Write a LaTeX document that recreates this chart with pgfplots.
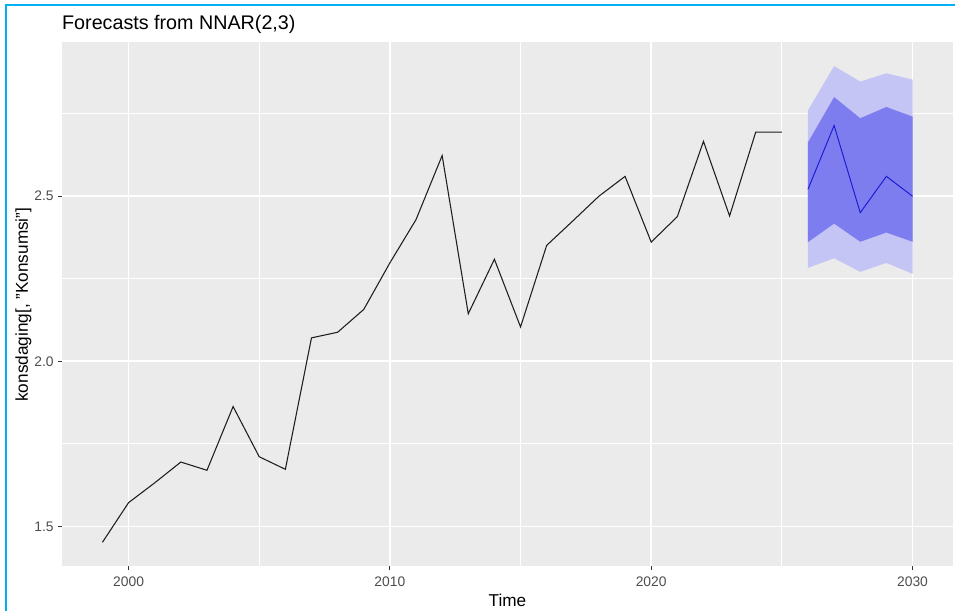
\documentclass[border=0pt]{standalone}
\usepackage{fontspec}
\setmainfont{Liberation Sans}
\usepackage{pgfplots}
\usepackage{pgfplotstable}
\pgfplotsset{compat=1.18}
\usepgfplotslibrary{fillbetween}

\definecolor{panelbg}{RGB}{235,235,235}
\definecolor{tickgray}{RGB}{51,51,51}
\definecolor{labgray}{RGB}{77,77,77}
\definecolor{band95}{RGB}{196,196,245}
\definecolor{band80}{RGB}{125,125,239}
\definecolor{fcline}{RGB}{25,25,210}
\definecolor{obsline}{RGB}{30,30,30}
\definecolor{frame}{RGB}{0,176,240}

% observed series
\pgfplotstableread{
year val
1999 1.452
2000 1.572
2001 1.632
2002 1.695
2003 1.670
2004 1.863
2005 1.711
2006 1.673
2007 2.071
2008 2.088
2009 2.157
2010 2.298
2011 2.429
2012 2.623
2013 2.144
2014 2.309
2015 2.104
2016 2.351
2017 2.425
2018 2.500
2019 2.560
2020 2.361
2021 2.438
2022 2.666
2023 2.440
2024 2.694
2025 2.694
}\obs

% NNAR forecast with 80/95 intervals
\pgfplotstableread{
year mean lo80 hi80 lo95 hi95
2026 2.521 2.361 2.663 2.283 2.760
2027 2.714 2.417 2.800 2.312 2.894
2028 2.450 2.362 2.736 2.271 2.847
2029 2.560 2.390 2.770 2.298 2.872
2030 2.500 2.362 2.741 2.265 2.853
}\fc

\begin{document}
\begin{tikzpicture}
  % page = 956 x 612 px, 1px = 0.75pt
  \path (0pt,0pt) rectangle (717pt,459pt);

  \begin{axis}[
    at={(46.5pt,33.75pt)}, anchor=south west,
    scale only axis,
    width=669pt, height=393.75pt,
    xmin=1997.45, xmax=2031.55,
    ymin=1.379, ymax=2.967,
    axis background/.style={fill=panelbg},
    axis line style={draw=none},
    xtick={2000,2010,2020,2030},
    ytick={1.5,2.0,2.5},
    minor xtick={2005,2015,2025},
    minor ytick={1.75,2.25,2.75},
    yticklabels={1.5,2.0,2.5},
    xticklabel style={/pgf/number format/1000 sep={}},
    /pgf/number format/assume math mode=true,
    grid=both,
    major grid style={white, line width=1.3pt},
    minor grid style={white, line width=0.65pt},
    tick align=outside, tick pos=left,
    major tick length=3pt, minor tick length=0pt,
    tick style={tickgray, line width=0.8pt},
    ticklabel style={font=\fontsize{10.4}{12}\selectfont, text=labgray},
    xticklabel style={inner sep=0pt, yshift=-5pt},
    yticklabel style={inner sep=0pt, xshift=-3pt},
    clip=false,
  ]
    \addplot[name path=hi95, draw=none, forget plot] table[x=year, y=hi95]{\fc};
    \addplot[name path=lo95, draw=none, forget plot] table[x=year, y=lo95]{\fc};
    \addplot[name path=hi80, draw=none, forget plot] table[x=year, y=hi80]{\fc};
    \addplot[name path=lo80, draw=none, forget plot] table[x=year, y=lo80]{\fc};
    \addplot[band95, draw=none] fill between[of=hi95 and lo95];
    \addplot[band80, draw=none] fill between[of=hi80 and lo80];
    \addplot[fcline, line width=0.7pt] table[x=year, y=mean]{\fc};
    \addplot[obsline, line width=0.8pt] table[x=year, y=val]{\obs};
  \end{axis}

  \node[anchor=base west, inner sep=0pt, font=\fontsize{14.8}{16}\selectfont]
    at (46.5pt,436.5pt) {Forecasts from NNAR(2,3)};
  \node[anchor=base, inner sep=0pt, font=\fontsize{12.9}{14}\selectfont]
    at (381pt,3.75pt) {Time};
  \node[rotate=90, anchor=base, inner sep=0pt, font=\fontsize{12.9}{14}\selectfont]
    at (21pt,230.25pt) {konsdaging[, "Konsumsi"]};

  \draw[frame, line width=1.5pt] (4.65pt,0pt) -- (4.65pt,455pt) -- (717pt,455pt);
\end{tikzpicture}
\end{document}
